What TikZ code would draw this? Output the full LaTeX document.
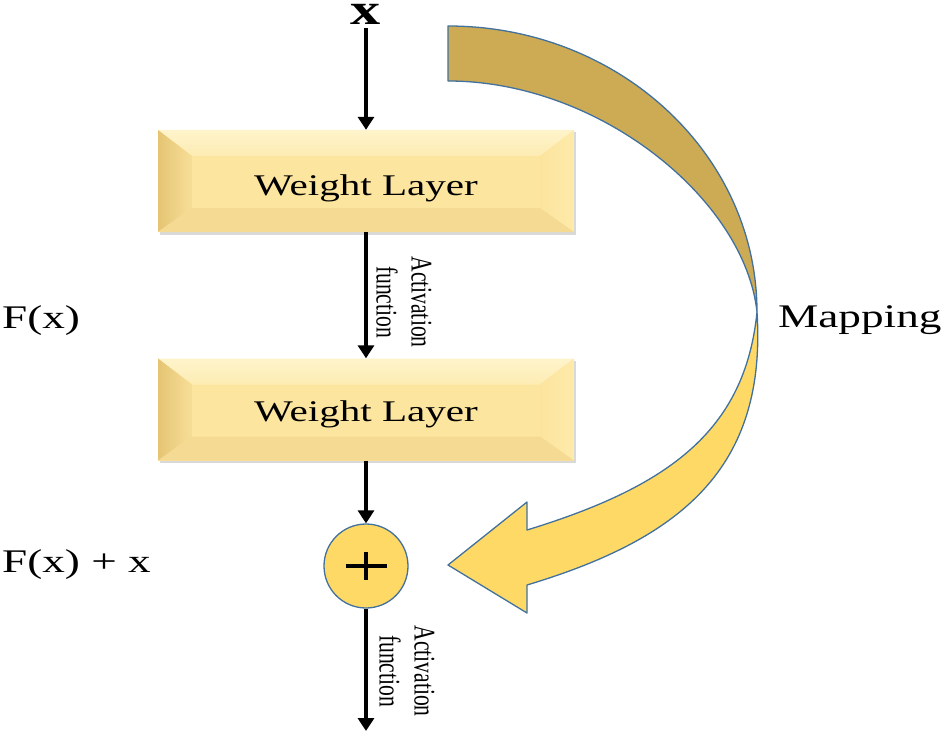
\documentclass[tikz,border=0pt]{standalone}
\usepackage{fontspec}
\usepackage{graphicx}
\setmainfont{Liberation Serif}
\usetikzlibrary{arrows.meta,calc,shadows}
\definecolor{boxface}{HTML}{FCE59E}
\definecolor{bevtop}{HTML}{FEF4CB}
\definecolor{bevtopin}{HTML}{FDECB3}
\definecolor{bevleftout}{HTML}{E5C574}
\definecolor{bevleftin}{HTML}{F7DE98}
\definecolor{bevrightin}{HTML}{FCE49E}
\definecolor{bevrightout}{HTML}{FEEAAA}
\definecolor{bevbot}{HTML}{F5DA94}
\definecolor{gold}{HTML}{FFD966}
\definecolor{darkgold}{HTML}{CDAB55}
\definecolor{outl}{HTML}{41719C}
\newcommand\widetxt[1]{\scalebox{1.37}[1]{#1}}
\newcommand\narrowtxt[1]{\scalebox{0.72}[1]{#1}}
\begin{document}
\begin{tikzpicture}[x=1pt,y=-1pt,
  arr/.style={line width=3.5pt,-{Triangle[length=13pt,width=16pt]}},
  lab/.style={inner sep=0pt,font=\fontsize{33}{36}\selectfont},
  wtext/.style={inner sep=0pt,font=\fontsize{30}{34}\selectfont},
  act/.style={rotate=-90,inner sep=0pt,font=\fontsize{30}{35}\selectfont},
  band/.style={draw=outl,line width=1.3pt,line join=round},
  wbox/.style={rectangle,minimum width=416pt,minimum height=102pt,inner sep=0pt,
    fill=boxface,
    drop shadow={shadow xshift=1.5pt,shadow yshift=-2.5pt,opacity=0.3,fill=black!50},
    path picture={
      \coordinate (NW) at (path picture bounding box.north west);
      \coordinate (NE) at (path picture bounding box.north east);
      \coordinate (SW) at (path picture bounding box.south west);
      \coordinate (SE) at (path picture bounding box.south east);
      \coordinate (iNW) at ($(NW)+(34,26)$);
      \coordinate (iNE) at ($(NE)+(-34,26)$);
      \coordinate (iSW) at ($(SW)+(34,-24)$);
      \coordinate (iSE) at ($(SE)+(-34,-24)$);
      \shade[top color=bevtop,bottom color=bevtopin] (NW) -- (NE) -- (iNE) -- (iNW) -- cycle;
      \shade[left color=bevleftout,right color=bevleftin] (NW) -- (iNW) -- (iSW) -- (SW) -- cycle;
      \shade[left color=bevrightin,right color=bevrightout] (NE) -- (iNE) -- (iSE) -- (SE) -- cycle;
      \fill[bevbot] (SW) -- (SE) -- (iSE) -- (iSW) -- cycle;
    }},
  sumnode/.style={circle,minimum size=84pt,inner sep=0pt,fill=gold,draw=outl,line width=1.3pt,
    path picture={
      \draw[black,line width=4pt] ($(path picture bounding box.center)+(-20.5,0)$) -- ($(path picture bounding box.center)+(20.5,0)$);
      \draw[black,line width=4pt] ($(path picture bounding box.center)+(0,-14)$) -- ($(path picture bounding box.center)+(0,14)$);
    }}
]
\useasboundingbox (0,0) rectangle (945,733);

% curved mapping arrow: back (dark) part then front (light) part
\path[band,fill=darkgold] (448,26) .. controls (618.7,26) and (757,154) .. (757,312)
   .. controls (745,200) and (600,81) .. (448,81) -- cycle;
\path[band,fill=gold] (757,312) .. controls (767,469) and (680,539) .. (527,585)
   -- (527,613) -- (448,565) -- (527,502) -- (527,530)
   .. controls (667,487) and (745,432) .. (757,312) -- cycle;

% main column
\node[inner sep=0pt,anchor=base,font=\bfseries\fontsize{44}{44}\selectfont] (xin) at (366,25) {\widetxt{x}};
\node[wbox] (w1) at (366,181) {};
\node[wtext,anchor=base] (t1) at (366,195) {\widetxt{Weight Layer}};
\node[wbox] (w2) at (366,409.5) {};
\node[wtext,anchor=base] (t2) at (366,421) {\widetxt{Weight Layer}};
\node[sumnode] (sum) at (366,566) {};
\coordinate (out) at (366,731);

\draw[arr,shorten <=3pt] (xin.south) -- (w1.north);
\draw[arr] (w1.south) -- (w2.north);
\draw[arr] (w2.south) -- (sum.north);
\draw[arr] (sum.south) -- (out);

\node[act] (a1) at (401,302) {\narrowtxt{\begin{tabular}{@{}c@{}}Activation\\function\end{tabular}}};
\node[act] (a2) at (404,671) {\narrowtxt{\begin{tabular}{@{}c@{}}Activation\\function\end{tabular}}};

% side labels
\node[lab,anchor=base west] (fx) at (2,328) {\widetxt{F(x)}};
\node[lab,anchor=base west] (fxx) at (2,572) {\widetxt{F(x) + x}};
\node[lab,anchor=base west] (map) at (778,327) {\widetxt{Mapping}};
\end{tikzpicture}
\end{document}
